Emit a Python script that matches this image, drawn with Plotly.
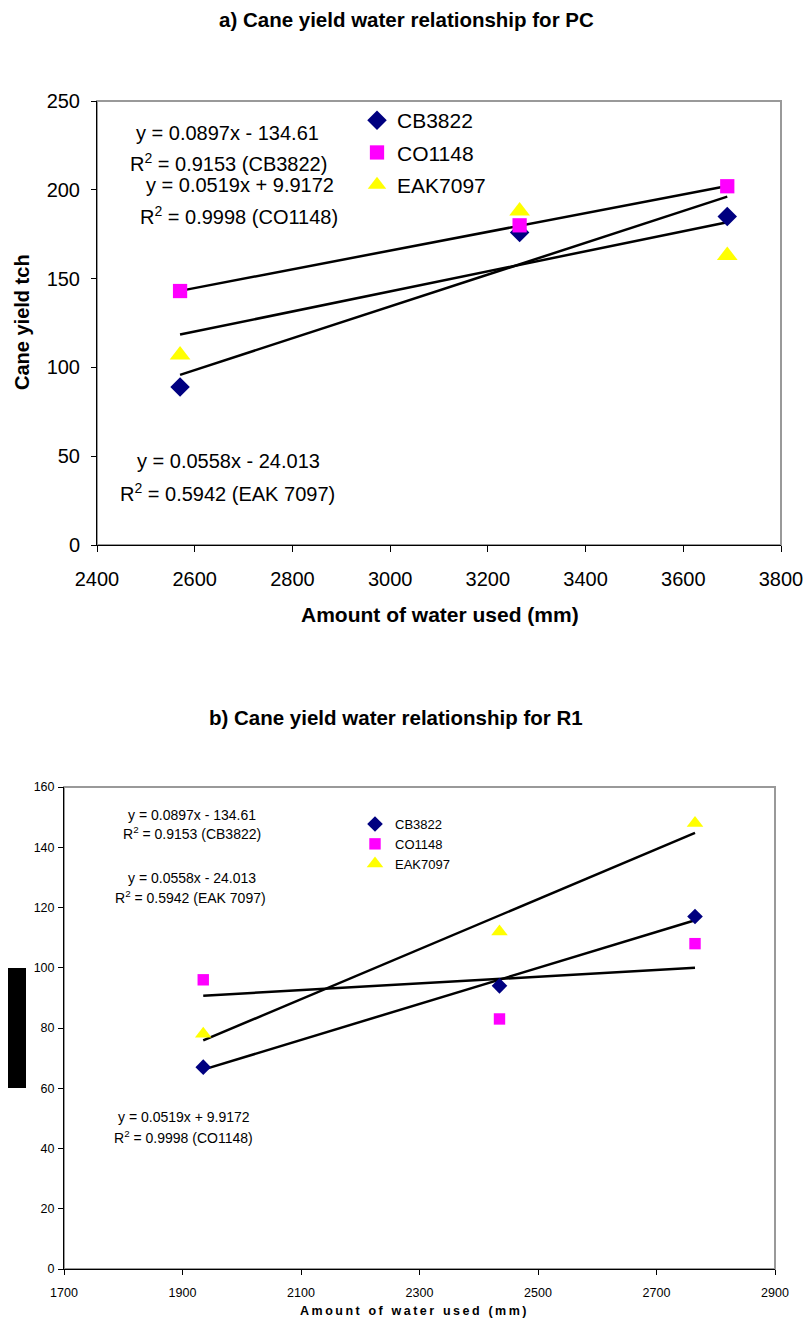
import numpy as np
import plotly.graph_objects as go

# ---- Data: chart a (PC) ----
water_pc = [2570, 3265, 3690]
cb3822_pc = [89, 176, 185]
co1148_pc = [143, 180, 202]
eak7097_pc = [107, 188, 163]

# ---- Data: chart b (R1) ----
water_r1 = [1935, 2435, 2765]
cb3822_r1 = [67, 94, 117]
co1148_r1 = [96, 83, 108]
eak7097_r1 = [78, 112, 148]

series_names = ["CB3822", "CO1148", "EAK7097"]

eq_pc = [
    ("y = 0.0897x - 134.61", "R<sup>2</sup> = 0.9153 (CB3822)"),
    ("y = 0.0519x + 9.9172", "R<sup>2</sup> = 0.9998 (CO1148)"),
    ("y = 0.0558x - 24.013", "R<sup>2</sup> = 0.5942 (EAK 7097)"),
]

FONT = "Liberation Sans, Arial, sans-serif"
W, H = 803, 1324

def px_x(v):
    return v / W

def px_y(v):
    return 1 - v / H

styles = [
    dict(symbol="diamond", color="#000080", scale=1.0),
    dict(symbol="square", color="#FF00FF", scale=0.95),
    dict(symbol="triangle-up", color="#FFFF00", scale=1.2),
]

fig = go.Figure()

def add_chart(xvals, ys, xa, ya, legend, msize):
    # trend lines (linear fits of the data)
    for y in ys:
        m, b = np.polyfit(xvals, y, 1)
        xx = [min(xvals), max(xvals)]
        fig.add_trace(go.Scatter(x=xx, y=[m * v + b for v in xx], mode="lines",
                                 line=dict(color="black", width=2.5),
                                 showlegend=False, hoverinfo="skip",
                                 xaxis=xa, yaxis=ya))
    for name, y, st in zip(series_names, ys, styles):
        fig.add_trace(go.Scatter(x=xvals, y=y, mode="markers", name=name,
                                 marker=dict(symbol=st["symbol"], color=st["color"],
                                             size=msize * st["scale"], line=dict(width=0)),
                                 legend=legend, legendgroup=legend + name,
                                 xaxis=xa, yaxis=ya))

add_chart(water_pc, [cb3822_pc, co1148_pc, eak7097_pc], "x", "y", "legend", 15)
add_chart(water_r1, [cb3822_r1, co1148_r1, eak7097_r1], "x2", "y2", "legend2", 12)

# domains from pixel geometry (reference page pixels)
xa_dom = [px_x(97), px_x(781)]
ya_dom = [px_y(545), px_y(101)]
xb_dom = [px_x(64), px_x(775)]
yb_dom = [px_y(1269), px_y(787)]

axis_common = dict(showgrid=False, zeroline=False, showline=True, linecolor="black",
                   linewidth=1, ticks="outside", tickcolor="black", automargin=False,
                   ticklabeloverflow="allow")

fig.update_layout(
    width=W, height=H, margin=dict(l=0, r=0, t=0, b=0, autoexpand=False),
    paper_bgcolor="white", plot_bgcolor="white",
    font=dict(family=FONT, color="black"),
    xaxis=dict(domain=xa_dom, range=[2400, 3800], dtick=200, tick0=2400, ticklen=6,
               ticklabelstandoff=10, tickfont=dict(size=20), anchor="y", **axis_common),
    yaxis=dict(domain=ya_dom, range=[0, 250], dtick=50, ticklen=5, ticklabelstandoff=7,
               tickfont=dict(size=20), anchor="x", **axis_common),
    xaxis2=dict(domain=xb_dom, range=[1700, 2900], dtick=200, tick0=1700, ticklen=5,
                ticklabelstandoff=7, tickfont=dict(size=12.5), anchor="y2", **axis_common),
    yaxis2=dict(domain=yb_dom, range=[0, 160], dtick=20, ticklen=5, ticklabelstandoff=1,
                tickfont=dict(size=12.5), anchor="x2", **axis_common),
    legend=dict(x=px_x(357), y=px_y(100), xanchor="left", yanchor="top",
                font=dict(size=21), bgcolor="rgba(0,0,0,0)", tracegroupgap=2,
                itemsizing="trace"),
    legend2=dict(x=px_x(355), y=px_y(809), xanchor="left", yanchor="top",
                 font=dict(size=13), bgcolor="rgba(0,0,0,0)", tracegroupgap=0,
                 itemsizing="trace"),
)

shapes = []
for xr, yr in [("x domain", "y domain"), ("x2 domain", "y2 domain")]:
    shapes.append(dict(type="rect", xref=xr, yref=yr, x0=0, x1=1, y0=0, y1=1,
                       line=dict(color="#999999", width=2), layer="below"))
# black block at left of chart b
shapes.append(dict(type="rect", xref="paper", yref="paper",
                   x0=px_x(8), x1=px_x(26), y0=px_y(1088), y1=px_y(968),
                   fillcolor="black", line=dict(width=0)))
fig.update_layout(shapes=shapes)

ann = []
def text(x, y, s, size, bold=False, angle=0):
    ann.append(dict(xref="paper", yref="paper", x=px_x(x), y=px_y(y),
                    text=("<b>%s</b>" % s) if bold else s,
                    showarrow=False, xanchor="center", yanchor="middle", textangle=angle,
                    font=dict(size=size, family=FONT, color="black")))

text(406, 20, "a) Cane yield water relationship for PC", 20.5, bold=True)
text(440, 614, "Amount of water used (mm)", 21, bold=True)
text(22, 322, "Cane yield tch", 20, bold=True, angle=-90)

text(227, 133, eq_pc[0][0], 20)
text(228, 162, eq_pc[0][1], 20)
text(240, 185, eq_pc[1][0], 20)
text(239, 216, eq_pc[1][1], 20)
text(228, 461, eq_pc[2][0], 20)
text(227, 492, eq_pc[2][1], 20)

text(396, 717, "b) Cane yield water relationship for R1", 20.5, bold=True)
spaced = "A m o u n t  o f  w a t e r  u s e d  ( m m )".replace("  ", "\u2002\u2009").replace(" ", "\u2009")
text(413, 1311, spaced, 12.5, bold=True)

text(192, 815, eq_pc[0][0], 14)
text(192, 833, eq_pc[0][1], 14)
text(192, 878, eq_pc[2][0], 14)
text(190, 897, eq_pc[2][1], 14)
text(184, 1117, eq_pc[1][0], 14)
text(183, 1137, eq_pc[1][1], 14)

fig.update_layout(annotations=ann)

fig.write_html("out.html",
               config={"displayModeBar": False},
               post_script="document.body.style.margin='0';"
                           "document.documentElement.style.overflow='hidden';")
